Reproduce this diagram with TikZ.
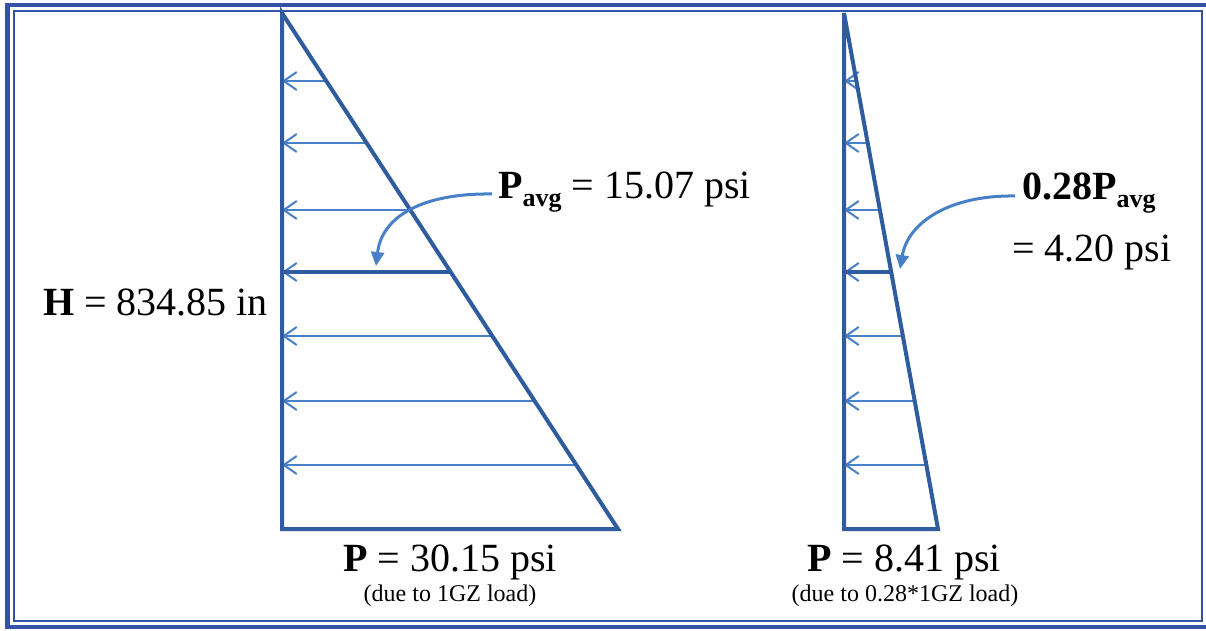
\documentclass[tikz,border=0pt]{standalone}
\usepackage{fontspec}
\setmainfont{Liberation Serif}
\usetikzlibrary{arrows.meta,calc}
\definecolor{framecol}{RGB}{52,82,168}
\definecolor{outline}{RGB}{46,92,158}
\definecolor{loadcol}{RGB}{72,128,200}
\newcommand{\bigtxt}{\fontsize{40}{44}\selectfont}
\newcommand{\subtxt}{\fontsize{26}{28}\selectfont}
\newcommand{\smalltxt}{\fontsize{24}{26}\selectfont}
\newcommand{\avgsub}{\raisebox{-8pt}{\subtxt\bfseries avg}}
\tikzset{
  outl/.style={draw=outline, line width=4pt, line join=miter},
  loadarrow/.style={draw=loadcol, line width=2pt, -{Straight Barb[length=13pt,width=18pt,line width=2pt]}},
  thickload/.style={draw=outline, line width=4pt},
  callout/.style={draw=loadcol, line width=3pt, -{Triangle[length=14pt,width=13pt]}},
  lbl/.style={inner sep=0pt, text=black},
}
\begin{document}
\begin{tikzpicture}[x=1pt,y=-1pt]
\useasboundingbox (0,0) rectangle (1206,631);
\fill[white] (0,0) rectangle (1206,631);
% frame
\draw[framecol, line width=4.5pt] (7.5,5) rectangle (1208,627);
\draw[framecol, line width=1.5pt] (14,11) rectangle (1202,621);

% left triangle
\coordinate (L1) at (282,13);
\coordinate (L2) at (282,529);
\coordinate (L3) at (618,529);
\foreach \y in {81,143,210,272,336,401,465}{
  \pgfmathsetmacro{\t}{(\y-13)/516}
  \draw[loadarrow] ($(L1)!\t!(L3)$) -- ($(L1)!\t!(L2)$);
}
\draw[thickload] ($(L1)!0.5019!(L3)$) -- ($(L1)!0.5019!(L2)$);
\draw[outl] (L1) -- (L2) -- (L3) -- cycle;

% right triangle
\coordinate (R1) at (844,13);
\coordinate (R2) at (844,529);
\coordinate (R3) at (938,529);
\foreach \y in {81,143,210,272,336,401,465}{
  \pgfmathsetmacro{\t}{(\y-13)/516}
  \draw[loadarrow] ($(R1)!\t!(R3)$) -- ($(R1)!\t!(R2)$);
}
\draw[thickload] ($(R1)!0.5019!(R3)$) -- ($(R1)!0.5019!(R2)$);
\draw[outl] (R1) -- (R2) -- (R3) -- cycle;

% labels
\node[lbl, anchor=base west] (H) at (43,315) {\bigtxt\textbf{H} = 834.85 in};
\node[lbl, anchor=base west] (pavg) at (498,198) {\bigtxt\textbf{P}\avgsub{} = 15.07 psi};
\node[lbl, anchor=base] (pl) at (450,571) {\bigtxt\textbf{P} = 30.15 psi};
\node[lbl, anchor=base] (dl) at (450,601) {\smalltxt(due to 1GZ load)};
\node[lbl, anchor=base] (pr) at (904,571) {\bigtxt\textbf{P} = 8.41 psi};
\node[lbl, anchor=base] (dr) at (905,601) {\smalltxt(due to 0.28*1GZ load)};
\node[lbl, anchor=base west] (ravg) at (1022,200) {\bigtxt\textbf{0.28P}\avgsub};
\node[lbl, anchor=base west] (rval) at (1012,261) {\fontsize{40}{44}\selectfont = 4.20 psi};

% callout arrows
\coordinate (ltip) at (376,266);
\coordinate (rtip) at (900,269);
\draw[callout] ([xshift=-6pt,yshift=4pt]pavg.base west) .. controls (425,193) and (382,215) .. (ltip);
\draw[callout] ([xshift=-7pt,yshift=4pt]ravg.base west) .. controls (950,195) and (908,222) .. (rtip);
\end{tikzpicture}
\end{document}
